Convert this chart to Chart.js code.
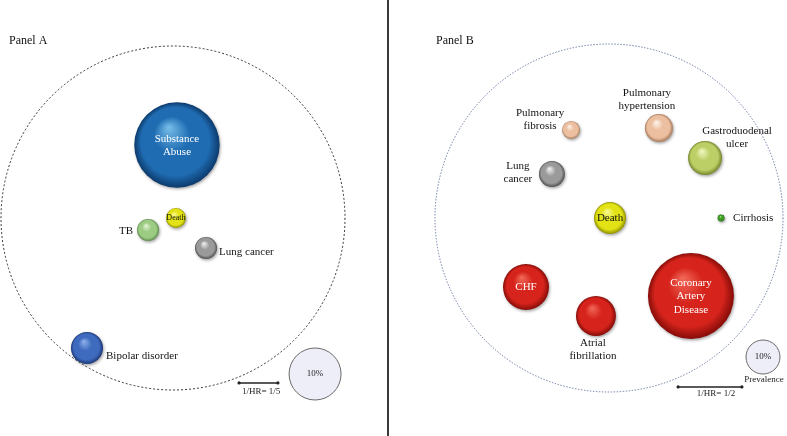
<!DOCTYPE html>
<html>
<head>
<meta charset="utf-8">
<script src="https://cdn.jsdelivr.net/npm/chart.js@4.4.1/dist/chart.umd.min.js"></script>
<style>
    html, body { margin: 0; padding: 0; background: #fff; }
    #contenedor { position: relative; width: 787px; height: 436px; overflow: hidden; }
    canvas { position: absolute; top: 0; }
    #divisor { position: absolute; left: 387px; top: 0; width: 1.5px; height: 436px; background: #3a3a3a; }
</style>
</head>
<body>
<div id="contenedor">
    <canvas id="panelA" width="387" height="436" style="left:0"></canvas>
    <div id="divisor"></div>
    <canvas id="panelB" width="398" height="436" style="left:389px"></canvas>
</div>
<script>
// Panel A: distancia al centro ~ 1/HR, tamaño = prevalencia (%)
const etiquetasA = ['Substance\nAbuse', 'Death', 'TB', 'Lung cancer', 'Bipolar disorder'];
const posXA = [2.3, 1.7, -14.5, 19.2, -50.0];
const posYA = [42.4, 0.0, -7.0, -17.4, -75.6];
const prevalenciaA = [27.0, 1.5, 1.8, 1.8, 3.8];

// Panel B
const etiquetasB = ['Pulmonary\nfibrosis', 'Pulmonary\nhypertension', 'Gastroduodenal\nulcer', 'Lung\ncancer',
    'Death', 'Cirrhosis', 'CHF', 'Atrial\nfibrillation', 'Coronary\nArtery\nDisease'];
const posXB = [-21.8, 28.7, 55.2, -32.8, 0.6, 64.4, -47.7, -7.5, 47.1];
const posYB = [50.6, 51.7, 34.5, 25.3, 0.0, 0.0, -39.7, -56.3, -44.8];
const prevalenciaB = [2.8, 6.8, 10.0, 5.8, 8.9, 0.42, 18.3, 13.8, 64.0];

// burbuja de referencia
const prevalenciaRef = 10;
const textoRef = '10%';
const textoHR_A = '1/HR= 1/5';
const textoHR_B = '1/HR= 1/2';

const FUENTE = '"Liberation Serif", "Times New Roman", serif';

const AZUL = ['#78bfea', '#1f6cb2', '#0c3a6c'];
const AZUL_REY = ['#90b2ec', '#3f6bbf', '#1d3876'];
const AMARILLO = ['#fbfb9a', '#e2e215', '#8f8f00'];
const VERDE_CLARO = ['#e6f7da', '#9ccc84', '#5e8a4a'];
const GRIS = ['#f4f4f4', '#9a9a9a', '#505050'];
const ROJO = ['#f26a5a', '#d6241c', '#860c08'];
const DURAZNO = ['#fff6ee', '#ecbfa0', '#a87a5a'];
const OLIVA = ['#f2f8c4', '#bccf66', '#76862c'];
const VERDE = ['#a2e878', '#3c9a22', '#1c5a0e'];

document.addEventListener("DOMContentLoaded", () => {
    renderizarPanel('panelA', {
        titulo: 'Panel A', tituloX: 9,
        centro: [173, 218], pxPorUnidad: 1.72, radioRef: 26,
        etiquetas: etiquetasA, x: posXA, y: posYA, prevalencia: prevalenciaA,
        colores: [AZUL, AMARILLO, VERDE_CLARO, GRIS, AZUL_REY],
        ubicaciones: [
            { tipo: 'dentro', dx: 0, dy: -6, color: '#fff' },
            { tipo: 'dentro', dx: 0, dy: 0, tam: 8 },
            { tipo: 'izq', dx: -15, dy: 1 },
            { tipo: 'der', dx: 13, dy: 4 },
            { tipo: 'der', dx: 19, dy: 8 }
        ],
        refPos: [82.6, -90.7],
        refExtra: null,
        barra: { desde: 38.4, hasta: 61.0, y: -95.9, texto: textoHR_A, textoX: 51.2, textoDy: 9 },
        circulo: { color: '#222', dash: [2, 2] }
    });
    renderizarPanel('panelB', {
        titulo: 'Panel B', tituloX: 47,
        centro: [220, 218], pxPorUnidad: 1.74, radioRef: 17,
        etiquetas: etiquetasB, x: posXB, y: posYB, prevalencia: prevalenciaB,
        colores: [DURAZNO, DURAZNO, OLIVA, GRIS, AMARILLO, VERDE, ROJO, ROJO, ROJO],
        ubicaciones: [
            { tipo: 'centro', dx: -31, dy: -17 },
            { tipo: 'centro', dx: -12, dy: -35 },
            { tipo: 'centro', dx: 32, dy: -27 },
            { tipo: 'centro', dx: -34, dy: -8 },
            { tipo: 'dentro', dx: 0, dy: 0 },
            { tipo: 'der', dx: 12, dy: 0 },
            { tipo: 'dentro', dx: 0, dy: 0, color: '#fff' },
            { tipo: 'centro', dx: -3, dy: 27 },
            { tipo: 'dentro', dx: 0, dy: -13, color: '#fff' }
        ],
        refPos: [88.5, -79.9],
        refExtra: 'Prevalence',
        barra: { desde: 39.7, hasta: 76.4, y: -97.1, texto: textoHR_B, textoX: 61.5, textoDy: 7 },
        circulo: { color: '#5a6a9a', dash: [1.4, 1.6] }
    });
});

function radioDe(p, radioRef) {
    return radioRef * Math.sqrt(p / prevalenciaRef);
}

function renderizarPanel(id, cfg) {
    const canvas = document.getElementById(id);
    const ctx = canvas.getContext('2d');
    const w = canvas.width, h = canvas.height;
    const ppu = cfg.pxPorUnidad;

    const puntos = cfg.x.map((vx, i) => ({ x: vx, y: cfg.y[i], r: radioDe(cfg.prevalencia[i], cfg.radioRef) }));

    const degradado = (context) => {
        const chart = context.chart;
        const raw = context.raw;
        const c = cfg.colores[context.dataIndex] || cfg.colores[0];
        if (!raw || !chart.scales.x) return c[1];
        const px = chart.scales.x.getPixelForValue(raw.x);
        const py = chart.scales.y.getPixelForValue(raw.y);
        const r = raw.r;
        if (!isFinite(px) || !isFinite(py) || !isFinite(r)) return c[1];
        const g = chart.ctx.createRadialGradient(px - 0.2 * r, py - 0.42 * r, 0, px, py, r);
        g.addColorStop(0, c[0]);
        g.addColorStop(0.42, c[1]);
        g.addColorStop(0.8, c[1]);
        g.addColorStop(1, c[2]);
        return g;
    };

    const decoracion = {
        id: 'decoracion',
        beforeDatasetsDraw(chart) {
            const c = chart.ctx;
            const xs = chart.scales.x, ys = chart.scales.y;
            c.save();
            c.strokeStyle = cfg.circulo.color;
            c.lineWidth = 0.9;
            c.setLineDash(cfg.circulo.dash);
            c.beginPath();
            c.arc(xs.getPixelForValue(0), ys.getPixelForValue(0), xs.getPixelForValue(100) - xs.getPixelForValue(0), 0, Math.PI * 2);
            c.stroke();
            c.restore();
        },
        beforeDatasetDraw(chart, args) {
            chart.ctx.save();
            if (args.index === 0) {
                chart.ctx.shadowColor = 'rgba(0,0,0,0.35)';
                chart.ctx.shadowBlur = 3;
                chart.ctx.shadowOffsetX = 1;
                chart.ctx.shadowOffsetY = 1.5;
            }
        },
        afterDatasetDraw(chart) {
            chart.ctx.restore();
        },
        afterDatasetsDraw(chart) {
            const c = chart.ctx;
            const xs = chart.scales.x, ys = chart.scales.y;
            c.save();
            c.textBaseline = 'middle';
            c.fillStyle = '#111';
            c.font = '12px ' + FUENTE;
            c.textAlign = 'left';
            c.fillText(cfg.titulo, cfg.tituloX, 41);

            // etiquetas de cada burbuja
            const meta = chart.getDatasetMeta(0);
            meta.data.forEach((el, i) => {
                const u = cfg.ubicaciones[i];
                const lineas = cfg.etiquetas[i].split('\n');
                c.font = (u.tam || 11) + 'px ' + FUENTE;
                c.fillStyle = u.color || '#111';
                c.textAlign = u.tipo === 'izq' ? 'right' : (u.tipo === 'der' ? 'left' : 'center');
                lineas.forEach((t, k) => {
                    c.fillText(t, el.x + u.dx, el.y + u.dy + k * 13.5);
                });
            });

            // burbuja de referencia
            const ref = chart.getDatasetMeta(1).data[0];
            c.font = '9px ' + FUENTE;
            c.fillStyle = '#222';
            c.textAlign = 'center';
            c.fillText(textoRef, ref.x, ref.y);
            if (cfg.refExtra) {
                c.fillText(cfg.refExtra, ref.x + 1, ref.y + 23);
            }

            // barra de escala 1/HR
            const b = cfg.barra;
            const x1 = xs.getPixelForValue(b.desde), x2 = xs.getPixelForValue(b.hasta);
            const yb = ys.getPixelForValue(b.y);
            c.strokeStyle = '#222';
            c.fillStyle = '#222';
            c.lineWidth = 1.5;
            c.beginPath();
            c.moveTo(x1, yb);
            c.lineTo(x2, yb);
            c.stroke();
            [x1, x2].forEach(xp => {
                c.beginPath();
                c.arc(xp, yb, 1.6, 0, Math.PI * 2);
                c.fill();
            });
            c.fillText(b.texto, xs.getPixelForValue(b.textoX), yb + b.textoDy);
            c.restore();
        }
    };

    const grafica = new Chart(ctx, {
        type: 'bubble',
        data: {
            datasets: [
                {
                    data: puntos,
                    backgroundColor: degradado,
                    borderWidth: 0,
                    hoverRadius: 0,
                    clip: false
                },
                {
                    data: [{ x: cfg.refPos[0], y: cfg.refPos[1], r: radioDe(prevalenciaRef, cfg.radioRef) }],
                    backgroundColor: '#eeeef8',
                    borderColor: '#6a6a6a',
                    borderWidth: 1,
                    hoverRadius: 0,
                    clip: false
                }
            ]
        },
        options: {
            responsive: false,
            animation: false,
            events: [],
            layout: { padding: 0, autoPadding: false },
            plugins: {
                legend: { display: false },
                tooltip: { enabled: false }
            },
            scales: {
                x: {
                    type: 'linear',
                    display: false,
                    min: -cfg.centro[0] / ppu,
                    max: (w - cfg.centro[0]) / ppu
                },
                y: {
                    type: 'linear',
                    display: false,
                    min: -(h - cfg.centro[1]) / ppu,
                    max: cfg.centro[1] / ppu
                }
            }
        },
        plugins: [decoracion]
    });
    grafica.update('none');
}
</script>
</body>
</html>
